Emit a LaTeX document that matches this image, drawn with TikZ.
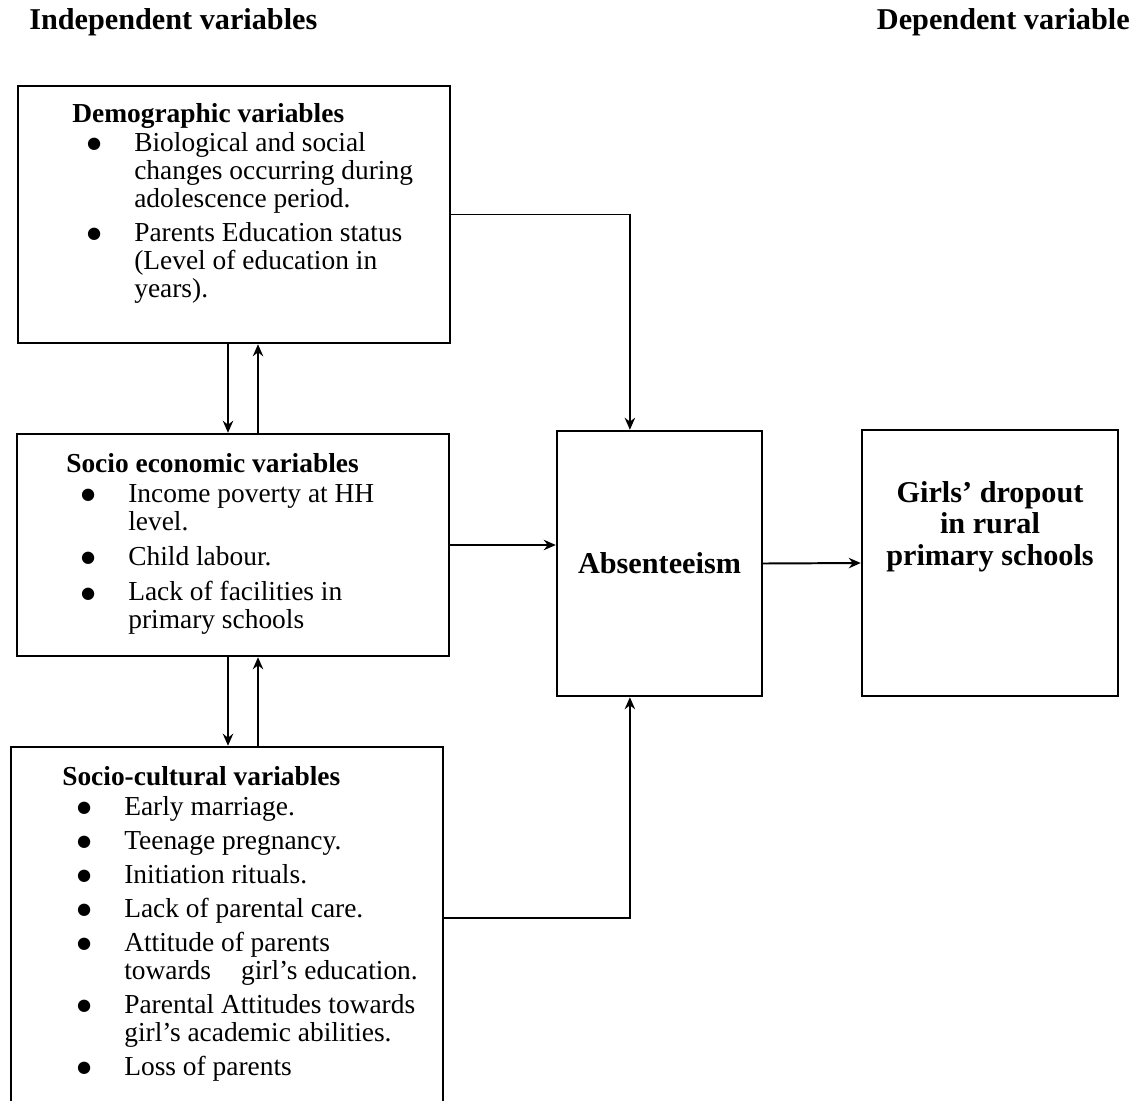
\documentclass[tikz,border=0pt]{standalone}
\usepackage{fontspec}
\setmainfont{Liberation Serif}
\newfontfamily\symfont{DejaVu Sans}
\usetikzlibrary{arrows.meta}
\newcommand{\bigbul}{\raisebox{1.8pt}{\symfont\fontsize{11.5}{11.5}\selectfont ●}}
\newcommand{\itm}{\hspace*{1.55cm}\makebox[0pt][r]{\makebox[0.5cm][c]{\bigbul}\hspace{0.75cm}}}
\newcommand{\cnt}{\hspace*{1.55cm}}
\tikzset{
	box/.style={draw, line width=1.7pt, inner sep=0pt},
	arr/.style={line width=1.4pt, -{Stealth[length=0.3cm,width=0.26cm]}},
	boxtxt/.style={anchor=north west, inner sep=0pt, align=left, font=\fontsize{19.5}{19.9}\selectfont},
	bigtxt/.style={font=\fontsize{21.5}{22.5}\selectfont\bfseries},
	hdr/.style={anchor=west, inner sep=0pt, bigtxt}
}

\begin{document}
\begin{tikzpicture}[x=0.025cm, y=-0.025cm]
			%%%%% START %%%%%
			\useasboundingbox (0, 0) rectangle (1136, 1100);
			\clip (0, 0) rectangle (1136, 1100);
			
			\node[hdr] (indep) at (29, 22) {Independent variables};
			\node[hdr, anchor=east] (dep) at (1130, 22) {Dependent variable};
			
			\node[box, minimum width=10.8cm, minimum height=6.425cm] (demo) at (234, 214.5) {};
			\node[box, minimum width=10.8cm, minimum height=5.55cm] (socio) at (233, 545) {};
			\node[box, minimum width=10.8cm, minimum height=9.25cm] (cult) at (227, 932) {};
			\node[box, bigtxt, minimum width=5.125cm, minimum height=6.625cm] (absent) at (659.5, 563.5) {Absenteeism};
			\node[box, minimum width=6.4cm, minimum height=6.65cm] (dropout) at (990, 563) {};
			
			\node[boxtxt] (demotxt) at (72, 103) {\textbf{Demographic variables}\\[0.03cm]
				\itm Biological and social\\
				\cnt changes occurring during\\
				\cnt adolescence period.\\[0.15cm]
				\itm Parents Education status\\
				\cnt (Level of education in\\
				\cnt years).};
			
			\node[boxtxt] (sociotxt) at (66, 453) {\textbf{Socio economic variables}\\[0.05cm]
				\itm Income poverty at HH\\
				\cnt level.\\[0.18cm]
				\itm Child labour.\\[0.18cm]
				\itm Lack of facilities in\\
				\cnt primary schools};
			
			\node[boxtxt] (culttxt) at (62, 766) {\textbf{Socio-cultural variables}\\[0.05cm]
				\itm Early marriage.\\[0.15cm]
				\itm Teenage pregnancy.\\[0.15cm]
				\itm Initiation rituals.\\[0.15cm]
				\itm Lack of parental care.\\[0.15cm]
				\itm Attitude of parents\\
				\cnt towards\hspace{0.75cm}girl’s education.\\[0.15cm]
				\itm Parental Attitudes towards\\
				\cnt girl’s academic abilities.\\[0.15cm]
				\itm Loss of parents};
			
			\node[bigtxt, anchor=north, inner sep=0pt, align=center] (dropouttxt) at (990, 481) {Girls’ dropout\\in rural\\primary schools};
			
			\draw[arr] ([xshift=-0.15cm]demo.south) -- ([xshift=-0.15cm]demo.south |- socio.north);
			\draw[arr] ([xshift=0.6cm]demo.south |- socio.north) -- ([xshift=0.6cm]demo.south);
			\draw[arr] ([xshift=-0.125cm]socio.south) -- ([xshift=-0.125cm]socio.south |- cult.north);
			\draw[arr] ([xshift=0.625cm]socio.south |- cult.north) -- ([xshift=0.625cm]socio.south);
			
			\draw[arr] (demo.east) -| ([xshift=-0.74cm]absent.north);
			\draw[arr] (socio.east) -- (socio.east -| absent.west);
			\draw[arr] ([yshift=0.35cm]cult.east) -| ([xshift=-0.74cm]absent.south);
			\draw[arr] (absent.east) -- (dropout.west);
			%%%%% END %%%%%
\end{tikzpicture}
\end{document}
